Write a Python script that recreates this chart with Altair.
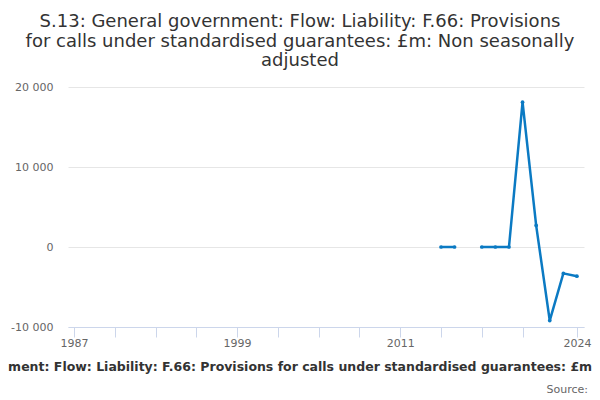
import altair as alt
import pandas as pd

years = [2014, 2015, 2016, 2017, 2018, 2019, 2020, 2021, 2022, 2023, 2024]
values = [0, 0, None, 0, 0, 0, 18100, 2700, -9200, -3300, -3650]

title_lines = [
    "S.13: General government: Flow: Liability: F.66: Provisions",
    "for calls under standardised guarantees: £m: Non seasonally",
    "adjusted",
]
x_title = ("S.13: General government: Flow: Liability: F.66: Provisions for calls "
           "under standardised guarantees: £m: Non seasonally adjusted")
source_text = "Source:"

x_ticks = [1987, 1990, 1993, 1996, 1999, 2002, 2005, 2008, 2011, 2014, 2017, 2020, 2024]
x_labels = [1987, 1999, 2011, 2024]
y_ticks = [-10000, 0, 10000, 20000]

df = pd.DataFrame({"year": years, "value": values})
seg = []
s = 0
for v in values:
    if v is None:
        s += 1
    seg.append(s)
df["segment"] = seg
df_valid = df.dropna()

FONT = "DejaVu Sans"
W, H = 516, 240
BLUE = "#0b7ac3"

x_enc = alt.X(
    "year:Q",
    scale=alt.Scale(domain=[1986.56, 2024.52], nice=False, zero=False),
    axis=alt.Axis(
        values=x_ticks,
        labelExpr="indexof(" + str(x_labels) + ", datum.value) >= 0 ? '' + datum.value : ''",
        grid=False,
        domainColor="#ccd6eb",
        tickColor="#ccd6eb",
        tickSize=10,
        labelPadding=0,
        labelFont=FONT,
        labelFontSize=11,
        labelColor="#666666",
        labelFlush=False,
        labelOverlap=False,
        title=x_title,
        titleFont=FONT,
        titleFontSize=12.5,
        titleFontWeight="bold",
        titleColor="#333333",
        titleAnchor="start",
        titleAlign="center",
        titleBaseline="alphabetic",
        titleX=248,
        titleY=43,
    ),
)
y_enc = alt.Y(
    "value:Q",
    scale=alt.Scale(domain=[-10000, 20000], nice=False),
    axis=alt.Axis(
        values=y_ticks,
        labelExpr="replace(replace(format(datum.value, ',d'), ',', ' '), '\u2212', '-')",
        domain=False,
        ticks=False,
        gridColor="#e6e6e6",
        labelPadding=15,
        labelFont=FONT,
        labelFontSize=11,
        labelColor="#666666",
        title=None,
    ),
)

line = alt.Chart(df_valid).mark_line(color=BLUE, strokeWidth=2.5).encode(
    x=x_enc, y=y_enc, detail="segment:N"
)
pts = alt.Chart(df_valid).mark_point(filled=True, color=BLUE, size=14, opacity=1).encode(
    x="year:Q", y="value:Q"
)
src = alt.Chart(pd.DataFrame({"t": [source_text]})).mark_text(
    align="right", baseline="alphabetic", font=FONT, fontSize=11, color="#666666"
).encode(x=alt.value(520), y=alt.value(306), text="t:N")

chart = alt.layer(line, pts, src).properties(
    width=W,
    height=H,
    autosize=alt.AutoSizeParams(type="none"),
    padding={"left": 60, "top": 79, "right": 8, "bottom": 73},
    title=alt.TitleParams(
        text=title_lines,
        font=FONT,
        fontSize=18,
        fontWeight="normal",
        color="#333333",
        anchor="middle",
        frame="group",
        dx=-26,
        lineHeight=19.5,
        offset=11,
    ),
).configure_view(stroke=None)

chart.save("out.html", embed_options={"renderer": "svg", "actions": False})
